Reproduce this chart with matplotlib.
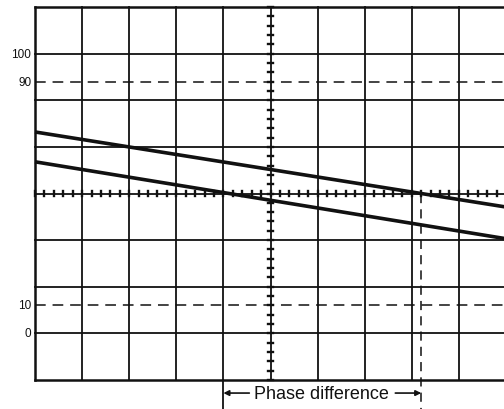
import numpy as np
import matplotlib
matplotlib.use("Agg")
import matplotlib.pyplot as plt

# graticule: 10 x 8 divisions
n_xdiv = 10
n_ydiv = 8
# percent levels on the rise-time scale (0% at 1 div, 100% at 7 div)
level_labels = ["0", "10", "90", "100"]
level_pos = [1.0, 1.6, 6.4, 7.0]
dashed_levels = [1.6, 6.4]

# two traces, end points at left / right edge (divisions)
trace_x = [0.0, 10.0]
trace_a = [5.32, 3.71]
trace_b = [4.68, 3.03]

# phase difference markers
phase_start = 4.0
phase_end = 8.2

plt.rcParams['font.family'] = ['Liberation Sans', 'DejaVu Sans']

fig = plt.figure(figsize=(5.04, 4.10), dpi=100)
# right border sits just outside the picture
ax = fig.add_axes([35 / 504, 29 / 410, 471 / 504, 373 / 410])
ax.set_xlim(0, n_xdiv)
ax.set_ylim(0, n_ydiv)
ax.axis("off")

k = "#111111"
for i in range(n_xdiv + 1):
    lw = 1.8 if i in (0, n_xdiv) else 1.3
    ax.plot([i, i], [0, n_ydiv], color=k, lw=lw, clip_on=False)
for j in range(n_ydiv + 1):
    lw = 1.8 if j in (0, n_ydiv) else 1.3
    ax.plot([0, n_xdiv], [j, j], color=k, lw=lw, clip_on=False)

# minor ticks on center axes
cx, cy = n_xdiv / 2, n_ydiv / 2
for t in np.arange(0, n_xdiv + 0.01, 0.2):
    ax.plot([t, t], [cy - 0.055, cy + 0.055], color=k, lw=1.7, clip_on=False)
for t in np.arange(0, n_ydiv + 0.01, 0.2):
    ax.plot([cx - 0.055, cx + 0.055], [t, t], color=k, lw=1.7, clip_on=False)

# dashed 10% / 90% lines
for y in dashed_levels:
    ax.plot([0, n_xdiv], [y, y], color=k, lw=1.1, linestyle=(0, (7, 4.5)), clip_on=False)

for lab, y in zip(level_labels, level_pos):
    ax.text(-0.08, y, lab, ha="right", va="center", fontsize=8.5, color=k)

# traces
ax.plot(trace_x, trace_a, color=k, lw=2.6, solid_capstyle="butt", clip_on=False)
ax.plot(trace_x, trace_b, color=k, lw=2.6, solid_capstyle="butt", clip_on=False)

# phase difference
ybot = -0.63
ax.plot([phase_start, phase_start], [0, ybot], color=k, lw=1.3, clip_on=False)
ax.plot([phase_end, phase_end], [cy, ybot], color=k, lw=1.1,
        linestyle=(0, (6, 4)), clip_on=False)
ytxt = -0.28
ax.text(6.08, ytxt, "Phase difference", ha="center", va="center", fontsize=13, color=k)
ax.annotate("", xy=(phase_start, ytxt), xytext=(4.55, ytxt),
            arrowprops=dict(arrowstyle="-|>", color=k, lw=1.2, mutation_scale=8,
                            shrinkA=0, shrinkB=0), annotation_clip=False)
ax.annotate("", xy=(phase_end, ytxt), xytext=(7.65, ytxt),
            arrowprops=dict(arrowstyle="-|>", color=k, lw=1.2, mutation_scale=8,
                            shrinkA=0, shrinkB=0), annotation_clip=False)

fig.savefig("out.png", dpi=100)
